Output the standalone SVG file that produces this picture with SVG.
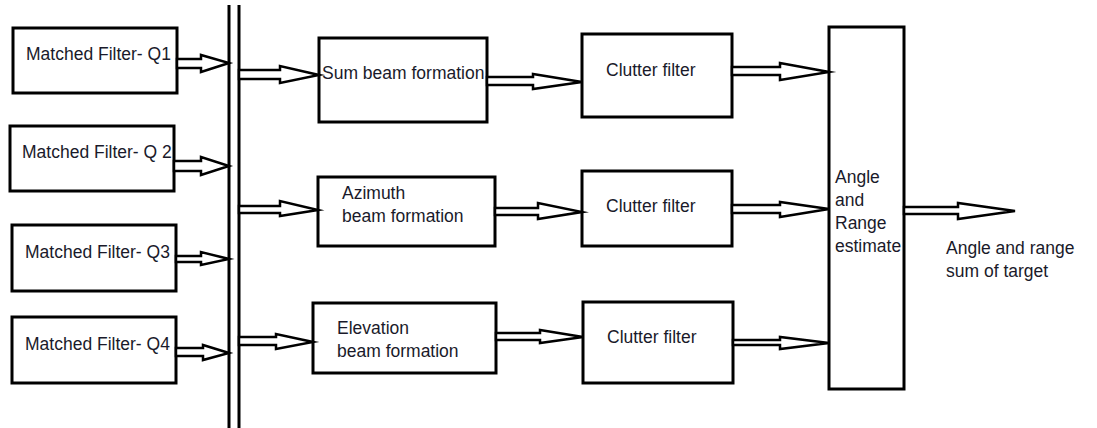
<svg xmlns="http://www.w3.org/2000/svg" width="1097" height="428" viewBox="0 0 1097 428">
  <style>
    .box { fill: #ffffff; stroke: #000000; stroke-width: 3; }
    .bus { stroke: #000000; stroke-width: 3; fill: none; }
    .arrow { fill: #ffffff; stroke: #000000; stroke-width: 2.5; stroke-linejoin: miter; stroke-miterlimit: 6; }
    .lbl { font-family: "Liberation Sans", Arial, sans-serif; font-size: 17.5px; fill: #1a1a2a; }
  </style>
  <rect width="1097" height="428" fill="#ffffff"/>

  <!-- matched filters, one per quadrant -->
  <g id="mf-q1">
    <rect class="box" x="13" y="28" width="164" height="65"/>
    <text class="lbl" x="26" y="60">Matched Filter- Q1</text>
  </g>
  <g id="mf-q2">
    <rect class="box" x="10" y="126" width="164" height="65"/>
    <text class="lbl" x="22" y="158">Matched Filter- Q 2</text>
  </g>
  <g id="mf-q3">
    <rect class="box" x="12" y="225" width="164" height="66"/>
    <text class="lbl" x="25" y="258">Matched Filter- Q3</text>
  </g>
  <g id="mf-q4">
    <rect class="box" x="12" y="317" width="164" height="66"/>
    <text class="lbl" x="25" y="350">Matched Filter- Q4</text>
  </g>

  <!-- common bus -->
  <g id="bus">
    <line class="bus" x1="229" y1="5" x2="229" y2="428"/>
    <line class="bus" x1="239" y1="5" x2="239" y2="428"/>
  </g>

  <!-- beam formers -->
  <g id="sum-beam">
    <rect class="box" x="319" y="38" width="168" height="84"/>
    <text class="lbl" x="322" y="79">Sum beam formation</text>
  </g>
  <g id="azimuth-beam">
    <rect class="box" x="318" y="177" width="177" height="69"/>
    <text class="lbl" x="342" y="199">Azimuth</text>
    <text class="lbl" x="342" y="222">beam formation</text>
  </g>
  <g id="elevation-beam">
    <rect class="box" x="313" y="303" width="183" height="70"/>
    <text class="lbl" x="337" y="334">Elevation</text>
    <text class="lbl" x="337" y="357">beam formation</text>
  </g>

  <!-- clutter filters -->
  <g id="clutter-1">
    <rect class="box" x="582" y="34" width="150" height="83"/>
    <text class="lbl" x="606" y="76">Clutter filter</text>
  </g>
  <g id="clutter-2">
    <rect class="box" x="582" y="171" width="150" height="75"/>
    <text class="lbl" x="606" y="212">Clutter filter</text>
  </g>
  <g id="clutter-3">
    <rect class="box" x="583" y="302" width="150" height="81"/>
    <text class="lbl" x="607" y="343">Clutter filter</text>
  </g>

  <!-- estimator -->
  <g id="estimator">
    <rect class="box" x="829" y="27" width="75" height="362"/>
    <text class="lbl" x="835" y="183">Angle</text>
    <text class="lbl" x="835" y="206">and</text>
    <text class="lbl" x="835" y="229">Range</text>
    <text class="lbl" x="835" y="252">estimate</text>
  </g>

  <!-- output label -->
  <g id="output">
    <text class="lbl" x="946" y="254">Angle and range</text>
    <text class="lbl" x="946" y="277">sum of target</text>
  </g>

  <!-- hollow block arrows -->
  <g id="connectors">
    <polygon class="arrow" points="177,59 201,59 201,55 229,63 201,72 201,68 177,68"/>
    <polygon class="arrow" points="174,161 201,161 201,157 229,166 201,175 201,171 174,171"/>
    <polygon class="arrow" points="176,256 201,256 201,252 229,259 201,265 201,262 176,262"/>
    <polygon class="arrow" points="176,348 203,348 203,345 229,353 203,360 203,356 176,356"/>

    <polygon class="arrow" points="239,70 280,70 280,66 319,75 280,83 280,79 239,79"/>
    <polygon class="arrow" points="239,206 280,206 280,201 318,210 280,216 280,213 239,213"/>
    <polygon class="arrow" points="239,337 276,337 276,334 313,342 276,349 276,345 239,345"/>

    <polygon class="arrow" points="487,77 533,77 533,74 582,82 533,89 533,85 487,85"/>
    <polygon class="arrow" points="495,208 538,208 538,203 582,212 538,219 538,215 495,215"/>
    <polygon class="arrow" points="496,333 540,333 540,330 583,337 540,343 540,340 496,340"/>

    <polygon class="arrow" points="732,67 780,67 780,63 829,72 780,80 780,75 732,75"/>
    <polygon class="arrow" points="732,205 780,205 780,202 829,209 780,217 780,213 732,213"/>
    <polygon class="arrow" points="733,340 780,340 780,337 829,343 780,349 780,345 733,345"/>

    <polygon class="arrow" points="904,207 958,207 958,203 1015,211 958,219 958,214 904,214"/>
  </g>
</svg>
